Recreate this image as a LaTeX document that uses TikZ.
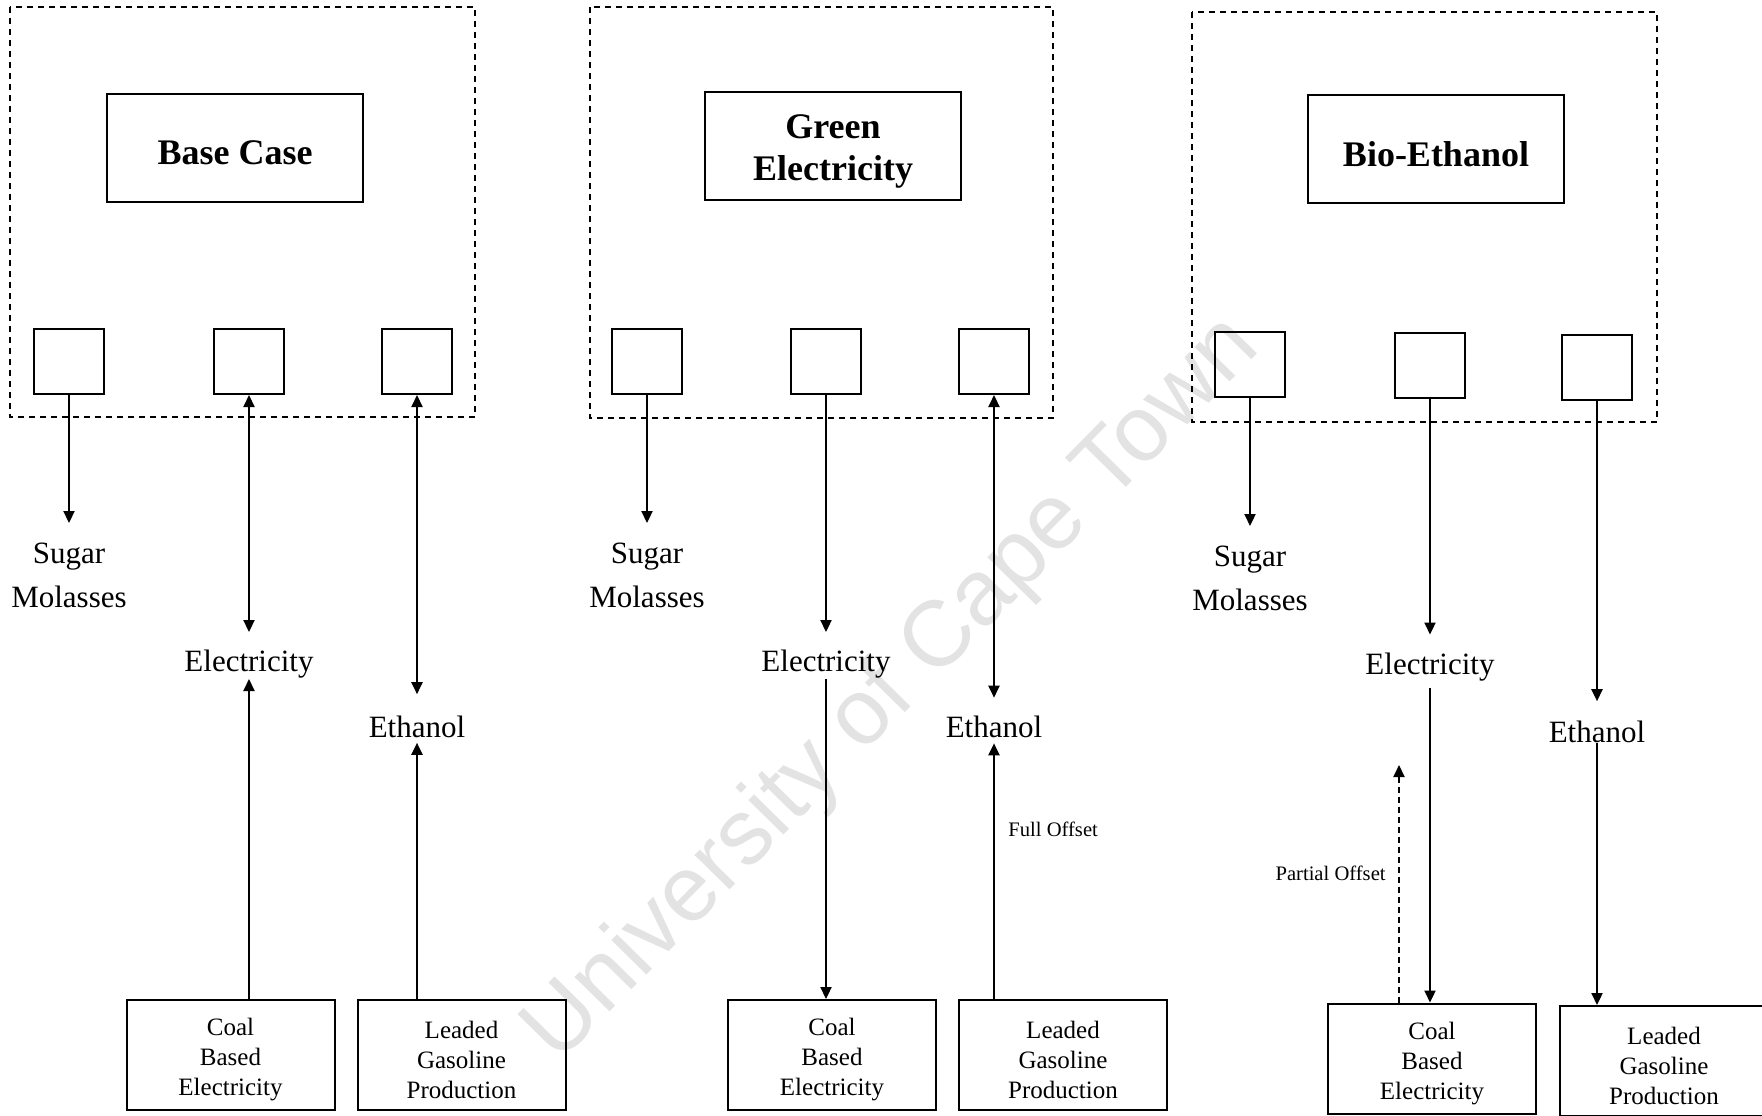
\documentclass[tikz,border=0pt]{standalone}
\usepackage{fontspec}
\setmainfont{Liberation Serif}
\newfontfamily\wmfont{Liberation Sans}
\usetikzlibrary{arrows.meta}

\begin{document}
\begin{tikzpicture}[x=0.5pt,y=-0.5pt,
  every node/.style={inner sep=0pt},
  scen-frame/.style={draw, line width=1pt, dash pattern=on 3pt off 2.5pt},
  title-box/.style={draw, line width=1pt, minimum width=128pt, minimum height=54pt},
  title-text/.style={align=center, yshift=-2.5pt, font=\bfseries\fontsize{18}{21}\selectfont},
  port-box/.style={draw, line width=1pt, minimum width=35pt, minimum height=32.5pt},
  sink-box/.style={draw, line width=1pt, minimum width=104pt, minimum height=55pt},
  sink-text/.style={align=center, yshift=-2.5pt, font=\fontsize{12.5}{15}\selectfont},
  flow-label/.style={align=center, font=\fontsize{15.5}{22}\selectfont},
  offset-label/.style={font=\fontsize{10.3}{12}\selectfont},
  arr-one/.style={line width=1.1pt, -{Triangle[length=6pt,width=5.5pt]}},
  arr-two/.style={line width=1.1pt, {Triangle[length=6pt,width=5.5pt]}-{Triangle[length=6pt,width=5.5pt]}},
]
\useasboundingbox (0,0) rectangle (1762,1115);
\clip (0,0) rectangle (1762,1115);

% watermark behind everything
\node[rotate=45.5, text=black!11, font=\wmfont\fontsize{46.5}{46.5}\selectfont] (wm) at (893,690) {University of Cape Town};

% ---------------- Base Case ----------------
\draw[scen-frame] (10,7) rectangle (475,417);
\node[title-box, label={[title-text]center:{Base Case}}] (titleA) at (235,147.5) {};
\node[port-box] (pA1) at (69,361.5) {};
\node[port-box] (pA2) at (249,361.5) {};
\node[port-box] (pA3) at (417,361.5) {};
\node[flow-label, anchor=north] (sugarA) at (69,543) {Sugar\\Molasses};
\node[flow-label] (elecA) at (249,664.5) {Electricity};
\node[flow-label] (ethA) at (417,726.5) {Ethanol};
\node[sink-box, label={[sink-text]center:{Coal\\Based\\Electricity}}] (coalA) at (230.5,1055) {};
\node[sink-box, label={[sink-text]center:{Leaded\\Gasoline\\Production}}] (gasA) at (461.5,1055) {};

\draw[arr-one, shorten >=10pt] (pA1.south) -- (sugarA.north);
\draw[arr-two, shorten >=9pt] (pA2.south) -- (elecA.north);
\draw[arr-one] (coalA.north -| elecA.south) -- (elecA.south);
\draw[arr-two, shorten >=10.5pt] (pA3.south) -- (ethA.north);
\draw[arr-one, shorten >=2.5pt] (gasA.north -| ethA.south) -- (ethA.south);

% ---------------- Green Electricity ----------------
\draw[scen-frame] (590,7) rectangle (1053,418);
\node[title-box, label={[title-text]center:{Green\\Electricity}}] (titleB) at (833,146) {};
\node[port-box] (pB1) at (647,361.5) {};
\node[port-box] (pB2) at (826,361.5) {};
\node[port-box] (pB3) at (994,361.5) {};
\node[flow-label, anchor=north] (sugarB) at (647,543) {Sugar\\Molasses};
\node[flow-label] (elecB) at (826,664.5) {Electricity};
\node[flow-label] (ethB) at (994,727) {Ethanol};
\node[sink-box, label={[sink-text]center:{Coal\\Based\\Electricity}}] (coalB) at (832,1055) {};
\node[sink-box, label={[sink-text]center:{Leaded\\Gasoline\\Production}}] (gasB) at (1063,1055) {};

\draw[arr-one, shorten >=10pt] (pB1.south) -- (sugarB.north);
\draw[arr-one, shorten >=9pt] (pB2.south) -- (elecB.north);
\draw[arr-one] (elecB.south) -- (coalB.north -| elecB.south);
\draw[arr-two, shorten >=9pt] (pB3.south) -- (ethB.north);
\draw[arr-one, shorten >=2.5pt] (gasB.north -| ethB.south) -- (ethB.south);
\node[offset-label, anchor=west] (fullB) at (1008,829) {Full Offset};

% ---------------- Bio-Ethanol ----------------
\draw[scen-frame] (1192,12) rectangle (1657,422);
\node[title-box, label={[title-text]center:{Bio-Ethanol}}] (titleC) at (1436,149) {};
\node[port-box] (pC1) at (1250,364) {};
\node[port-box] (pC2) at (1430,365) {};
\node[port-box] (pC3) at (1597,367) {};
\node[flow-label, anchor=north] (sugarC) at (1250,546) {Sugar\\Molasses};
\node[flow-label] (elecC) at (1430,667) {Electricity};
\node[flow-label] (ethC) at (1597,731.5) {Ethanol};
\node[sink-box, label={[sink-text]center:{Coal\\Based\\Electricity}}] (coalC) at (1432,1058.5) {};
\node[sink-box, label={[sink-text]center:{Leaded\\Gasoline\\Production}}] (gasC) at (1664,1061) {};

\draw[arr-one, shorten >=10pt] (pC1.south) -- (sugarC.north);
\draw[arr-one, shorten >=9pt] (pC2.south) -- (elecC.north);
\draw[arr-one, shorten <=3pt] (elecC.south) -- (coalC.north -| elecC.south);
\draw[arr-one, shorten >=9.5pt] (pC3.south) -- (ethC.north);
\draw[arr-one] (ethC.south) -- (gasC.north -| ethC.south);

\coordinate (poTip) at (1399,765);
\draw[arr-one, line width=1pt, dash pattern=on 3pt off 2pt] (coalC.north -| poTip) -- (poTip);
\node[offset-label, anchor=east] (partC) at (1386,873) {Partial Offset};

\end{tikzpicture}
\end{document}
